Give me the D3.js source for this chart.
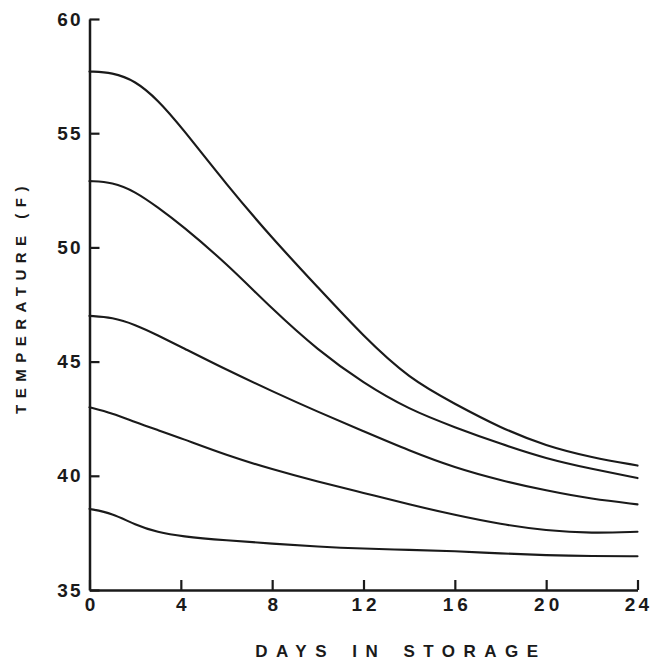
<!DOCTYPE html>
<html><head><meta charset="utf-8">
<script src="https://cdn.jsdelivr.net/npm/d3@7"></script>
<style>
html,body{margin:0;padding:0;background:#fff;}
svg text{font-family:"Liberation Sans",Arial,sans-serif;font-weight:bold;fill:#1a1a1a;}
</style></head>
<body><svg id="c" width="651" height="660"></svg>
<script>
const days = [0,1,2,3,4,6,8,10,12,14,16,18,20,22,24];
const curve1 = [57.7,57.66,57.3,56.45,55.3,52.75,50.4,48.25,46.1,44.25,43.15,42.1,41.3,40.8,40.45];
const curve2 = [52.9,52.86,52.45,51.75,51.0,49.3,47.3,45.5,44.05,42.9,42.12,41.4,40.75,40.3,39.9];
const curve3 = [47.0,46.94,46.62,46.15,45.65,44.64,43.7,42.8,41.95,41.1,40.35,39.8,39.35,38.98,38.75];
const curve4 = [43.0,42.74,42.35,42.0,41.65,40.9,40.28,39.74,39.25,38.75,38.28,37.88,37.6,37.48,37.55];
const curve5 = [38.55,38.36,37.85,37.52,37.35,37.17,37.03,36.9,36.81,36.76,36.7,36.6,36.52,36.48,36.48];
const xTicks = [0,4,8,12,16,20,24];
const yTicks = [35,40,45,50,55,60];
const xTitle = "DAYS IN STORAGE";
const yTitle = "TEMPERATURE (F)";

const svg = d3.select("#c");
const x = d3.scaleLinear().domain([0,24]).range([89.5,637.5]);
const y = d3.scaleLinear().domain([35,60]).range([590,19]);
const ink = "#1a1a1a";

const series = [curve1,curve2,curve3,curve4,curve5];
const line = d3.line().x((d,i)=>x(days[i])).y(d=>y(d)).curve(d3.curveBasis);
svg.append("g").selectAll("path").data(series).join("path")
  .attr("d", d=>line(d)).attr("fill","none").attr("stroke",ink)
  .attr("stroke-width",(d,i)=> i===0?2.2:2.1).attr("stroke-linecap","round");

const yAxis = svg.append("g").attr("transform",`translate(${x(0)},0)`)
  .call(d3.axisLeft(y).tickValues(yTicks).tickSizeInner(-10).tickSizeOuter(0).tickPadding(9).tickFormat(d3.format("d")));
const xAxis = svg.append("g").attr("transform",`translate(0,${y(35)})`)
  .call(d3.axisBottom(x).tickValues(xTicks).tickSizeInner(-10).tickSizeOuter(0).tickPadding(8).tickFormat(d3.format("d")));
[yAxis,xAxis].forEach(a=>{
  a.select(".domain").attr("stroke",ink).attr("stroke-width",2.5);
  a.selectAll(".tick line").attr("stroke",ink).attr("stroke-width",2.2);
  a.selectAll("text").attr("fill",ink).style("font-size","19px").style("letter-spacing","2px");
});
yAxis.selectAll("text").attr("dx","2px");
xAxis.selectAll("text").style("letter-spacing","4px").attr("dx","2px");
xAxis.selectAll(".tick").filter(d=>d===24).select("text")
  .attr("text-anchor","end").attr("dx","0").attr("x",14).style("letter-spacing","3px");

svg.append("text").attr("x",397).attr("y",657).attr("dx","4px").attr("text-anchor","middle")
  .style("font-size","17px").style("letter-spacing","8.5px").style("word-spacing","4px").text(xTitle);
svg.append("text").attr("transform","translate(26,297) rotate(-90)").attr("text-anchor","middle")
  .style("font-size","15px").style("letter-spacing","6.5px").text(yTitle);
</script></body></html>
